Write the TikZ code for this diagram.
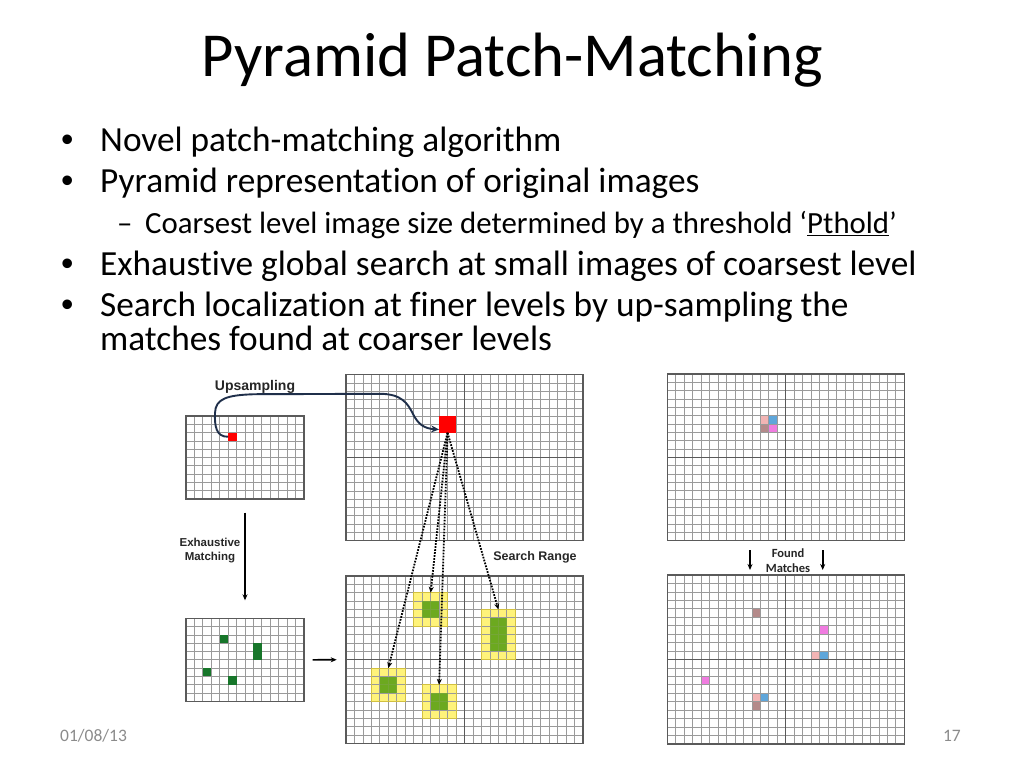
\documentclass[tikz,border=0pt]{standalone}
\usepackage{fontspec}
\setmainfont{Carlito}[Ligatures={NoCommon,NoContextual}]
\newfontfamily\arialf{Liberation Sans}
\usetikzlibrary{arrows.meta}
\definecolor{gridgray}{HTML}{9A9A9A}
\definecolor{framegray}{HTML}{5A5A5A}
\definecolor{redc}{HTML}{FF0000}
\definecolor{dkgreen}{HTML}{17762A}
\definecolor{ltgreen}{HTML}{6CA91F}
\definecolor{yel}{HTML}{FFF37A}
\definecolor{yelborder}{HTML}{D2C040}
\definecolor{pinkc}{HTML}{F2B4B4}
\definecolor{bluec}{HTML}{5FA6DA}
\definecolor{brownc}{HTML}{B48A8A}
\definecolor{magc}{HTML}{F07CE0}
\definecolor{navy}{HTML}{1F2F4A}
\definecolor{footgray}{HTML}{8B8B8B}
\definecolor{labelc}{HTML}{262626}
\newcommand\setgrid[4]{\def\gxo{#1}\def\gyo{#2}\def\gcw{#3}\def\gch{#4}}
\newcommand\cellat[6]{\node[#2, anchor=north west, minimum width={(#5)*\gcw*1pt}, minimum height={(#6)*\gch*1pt}] (#1) at ({\gxo+(#3)*\gcw},{\gyo+(#4)*\gch}) {};}
\newcommand\mygrid[7]{%
  \foreach \i in {0,...,#6} \draw[gline] ({#2+\i*(#4)/(#6)},#3) -- ({#2+\i*(#4)/(#6)},{#3+#5});
  \foreach \j in {0,...,#7} \draw[gline] (#2,{#3+\j*(#5)/(#7)}) -- ({#2+#4},{#3+\j*(#5)/(#7)});
  \node[gframe, anchor=north west, minimum width={(#4)*1pt}, minimum height={(#5)*1pt}] (#1) at (#2,#3) {};}
\tikzset{
  gline/.style={draw=gridgray, line width=0.8pt},
  gframe/.style={draw=framegray, line width=1.3pt, inner sep=0pt, outer sep=0pt, rectangle},
  qline/.style={draw=framegray, line width=1.1pt},
  cellbox/.style={inner sep=0pt, outer sep=0pt, rectangle},
  redcell/.style={cellbox, fill=redc},
  dgcell/.style={cellbox, fill=dkgreen},
  lgcell/.style={cellbox, fill=ltgreen},
  yelcell/.style={cellbox, fill=yel},
  pinkcell/.style={cellbox, fill=pinkc},
  bluecell/.style={cellbox, fill=bluec},
  browncell/.style={cellbox, fill=brownc},
  magcell/.style={cellbox, fill=magc},
  yborder/.style={draw=yelborder, line width=1pt},
  dotarrow/.style={draw=black, line width=1.8pt, dash pattern=on 1.7pt off 1.3pt, -{Stealth[length=6pt,width=5pt]}},
  solidarrow/.style={draw=black, line width=1.6pt, -{Stealth[length=6pt,width=5pt]}},
  uparrow/.style={draw=navy, line width=1.9pt, -{Stealth[length=8pt,width=7pt]}},
  body/.style={anchor=base west, inner sep=0pt, font=\fontsize{35.3}{42}\selectfont},
  bul/.style={anchor=base west, inner sep=0pt, font=\arialf\fontsize{35.3}{42}\selectfont},
  subbody/.style={anchor=base west, inner sep=0pt, font=\fontsize{30.8}{37}\selectfont},
  lab/.style={inner sep=0pt, text=labelc, align=center},
  foot/.style={inner sep=0pt, text=footgray, font=\fontsize{17.5}{20}\selectfont},
}
\begin{document}
\begin{tikzpicture}[x=1pt,y=-1pt]
\useasboundingbox (0,0) rectangle (1024,768);
\fill[white] (0,0) rectangle (1024,768);

% title
\node[anchor=base, inner sep=0pt, font=\fontsize{62.6}{75}\selectfont] (title) at (512,76) {Pyramid Patch-Matching};

% bullets
\node[bul] (b1) at (61,151.7) {•};
\node[body] (t1) at (100,151.7) {Novel patch-matching algorithm};
\node[bul] (b2) at (61,192.7) {•};
\node[body] (t2) at (100,192.7) {Pyramid representation of original images};
\node[subbody] (d3) at (117,233.3) {–};
\node[subbody] (t3) at (145,233.3) {Coarsest level image size determined by a threshold ‘\underline{Pthold}’};
\node[bul] (b4) at (61,275) {•};
\node[body] (t4) at (100,275) {Exhaustive global search at small images of coarsest level};
\node[bul] (b5) at (61,316) {•};
\node[body] (t5) at (100,316) {Search localization at finer levels by up-sampling the};
\node[body] (t6) at (100,350) {matches found at coarser levels};

% fills under grid lines
\setgrid{346}{576}{8.4643}{8.375}
\cellat{y1}{yelcell}{8}{2}{4}{4}
\cellat{g1}{lgcell}{9}{3}{2}{2}
\cellat{y2}{yelcell}{16}{4}{4}{6}
\cellat{g2}{lgcell}{17}{5}{2}{4}
\cellat{y3}{yelcell}{3}{11}{4}{4}
\cellat{g3}{lgcell}{4}{12}{2}{2}
\cellat{y4}{yelcell}{9}{13}{4}{4}
\cellat{g4}{lgcell}{10}{14}{2}{2}

\setgrid{667.3}{374}{8.4643}{8.335}
\cellat{e1}{pinkcell}{11}{5}{1}{1}
\cellat{e2}{bluecell}{12}{5}{1}{1}
\cellat{e3}{browncell}{11}{6}{1}{1}
\cellat{e4}{magcell}{12}{6}{1}{1}

\setgrid{667.3}{575}{8.4643}{8.45}
\cellat{f1}{browncell}{10}{4}{1}{1}
\cellat{f2}{magcell}{18}{6}{1}{1}
\cellat{f3}{pinkcell}{17}{9}{1}{1}
\cellat{f4}{bluecell}{18}{9}{1}{1}
\cellat{f5}{magcell}{4}{12}{1}{1}
\cellat{f6}{pinkcell}{10}{14}{1}{1}
\cellat{f7}{bluecell}{11}{14}{1}{1}
\cellat{f8}{browncell}{10}{15}{1}{1}

% grids
\mygrid{A}{186}{416}{118}{83}{14}{10}
\mygrid{B}{346}{374.7}{237}{166}{28}{20}
\mygrid{C}{346}{576}{237}{167.5}{28}{20}
\mygrid{D}{186}{618.3}{118}{83}{14}{10}
\mygrid{E}{667.3}{374}{237}{166.7}{28}{20}
\mygrid{F}{667.3}{575}{237}{169}{28}{20}
\foreach \g in {B,C,E,F} {
  \draw[qline] (\g.north) -- (\g.south);
  \draw[qline] (\g.west) -- (\g.east);
}

% green centres drawn over the grid lines, slightly see-through
\foreach \g in {g1,g2,g3,g4} \fill[ltgreen, opacity=0.8] (\g.north west) rectangle (\g.south east);

% yellow box borders
\foreach \y in {y1,y2,y3,y4} \draw[yborder] (\y.north west) rectangle (\y.south east);

% red cells
\setgrid{186}{416}{8.4286}{8.3}
\cellat{ra}{redcell}{5}{2}{1}{1}
\setgrid{346}{374.7}{8.4643}{8.3}
\cellat{rb}{redcell}{11}{5}{2}{2}

% dark green cells in D
\setgrid{186}{618.3}{8.4286}{8.3}
\cellat{d1}{dgcell}{4}{2}{1}{1}
\cellat{d2}{dgcell}{8}{3}{1}{2}
\cellat{d3}{dgcell}{2}{6}{1}{1}
\cellat{d4}{dgcell}{5}{7}{1}{1}

% upsampling curve
\draw[uparrow] (ra.west) .. controls (216,437) and (214.5,426) .. (215,413)
  .. controls (215.5,399) and (226,395) .. (255,394.2) -- (380,393.8)
  .. controls (402,393.8) and (408,404) .. (413,414)
  .. controls (418,424) and (424,428.5) .. ([yshift=-5pt]rb.west);
\node[lab, font=\arialf\bfseries\fontsize{14}{16}\selectfont] (ups) at (255,386.5) {Upsampling};

% exhaustive matching
\draw[solidarrow] ([yshift=-13.7pt]A.south) -- ([yshift=18pt]D.north);
\node[lab, font=\arialf\bfseries\fontsize{11.5}{14}\selectfont] (exh) at (210,551) {Exhaustive\\Matching};

% horizontal arrow
\draw[solidarrow] ([xshift=8.7pt]D.east) -- ([xshift=-9.3pt]C.west);

% dotted arrows
\draw[dotarrow] (rb.south) -- (y1.north);
\draw[dotarrow] (rb.south) -- (y2.north);
\draw[dotarrow] (rb.south) -- (y3.north);
\draw[dotarrow] (rb.south) -- (y4.north);
\node[lab, font=\arialf\bfseries\fontsize{12.5}{14}\selectfont] (sr) at (535,557.5) {Search Range};

% found matches
\draw[solidarrow] ([xshift=-35.8pt,yshift=-9.3pt]E.south) -- ([xshift=-35.8pt,yshift=5pt]F.north);
\draw[solidarrow] ([xshift=36.9pt,yshift=-9.3pt]E.south) -- ([xshift=36.9pt,yshift=5pt]F.north);
\node[lab, font=\bfseries\fontsize{12.5}{14.5}\selectfont] (fm) at (788,560.5) {Found\\Matches};

% footer
\node[foot, anchor=base west] (date) at (60,741) {01/08/13};
\node[foot, anchor=base east] (page) at (961,741) {17};
\end{tikzpicture}
\end{document}
